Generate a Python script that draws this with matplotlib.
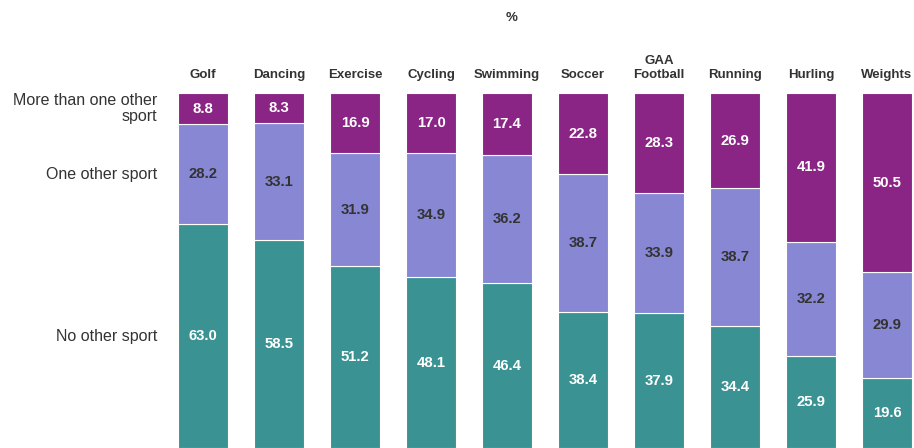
import matplotlib
matplotlib.use("Agg")
import matplotlib.pyplot as plt
import numpy as np

plt.rcParams['font.family'] = ['Liberation Sans', 'DejaVu Sans']

categories = ["Golf", "Dancing", "Exercise", "Cycling", "Swimming", "Soccer",
              "GAA\nFootball", "Running", "Hurling", "Weights"]
more_than_one = [8.8, 8.3, 16.9, 17.0, 17.4, 22.8, 28.3, 26.9, 41.9, 50.5]
one_other = [28.2, 33.1, 31.9, 34.9, 36.2, 38.7, 33.9, 38.7, 32.2, 29.9]
no_other = [63.0, 58.5, 51.2, 48.1, 46.4, 38.4, 37.9, 34.4, 25.9, 19.6]
series_names = ["No other sport", "One other sport", "More than one other\nsport"]

colors = ["#3a9292", "#8787d4", "#8b2585"]
text_colors = ["white", "#333333", "white"]

W, H = 914, 448
fig = plt.figure(figsize=(W / 100, H / 100), dpi=100)
pitch = 76.0
first_center = 203.0
left_px = first_center - pitch / 2
ax = fig.add_axes([left_px / W, 0, (W - left_px) / W, 355 / H])
ax.set_xlim(-0.5, (W - first_center) / pitch)
ax.set_ylim(0, 100)
ax.axis('off')

x = np.arange(len(categories))
series = [no_other, one_other, more_than_one]
bottom = np.zeros(len(categories))
for s, vals in enumerate(series):
    vals = np.array(vals)
    ax.bar(x, vals, bottom=bottom, width=0.66, color=colors[s],
           edgecolor='white', linewidth=0.8)
    for i, v in enumerate(vals):
        ax.text(x[i], bottom[i] + v / 2, f"{v:.1f}", ha='center', va='center',
                color=text_colors[s], fontsize=10.7, fontweight='bold')
    # left labels aligned to Golf segment centers
    ax.text(-0.5 - 8 / pitch, bottom[0] + vals[0] / 2, series_names[s],
            ha='right', va='center', fontsize=11.5, color='#333333',
            clip_on=False, linespacing=1.12)
    bottom += vals

for i, c in enumerate(categories):
    ax.text(x[i], 103.3, c, ha='center', va='bottom', fontsize=9.5,
            fontweight='bold', color='#333333', clip_on=False, linespacing=1.25)

fig.text(512 / W, 1 - 18 / H, "%", ha='center', va='center', fontsize=9.5,
         fontweight='bold', color='#333333')

fig.savefig("out.png", dpi=100)
